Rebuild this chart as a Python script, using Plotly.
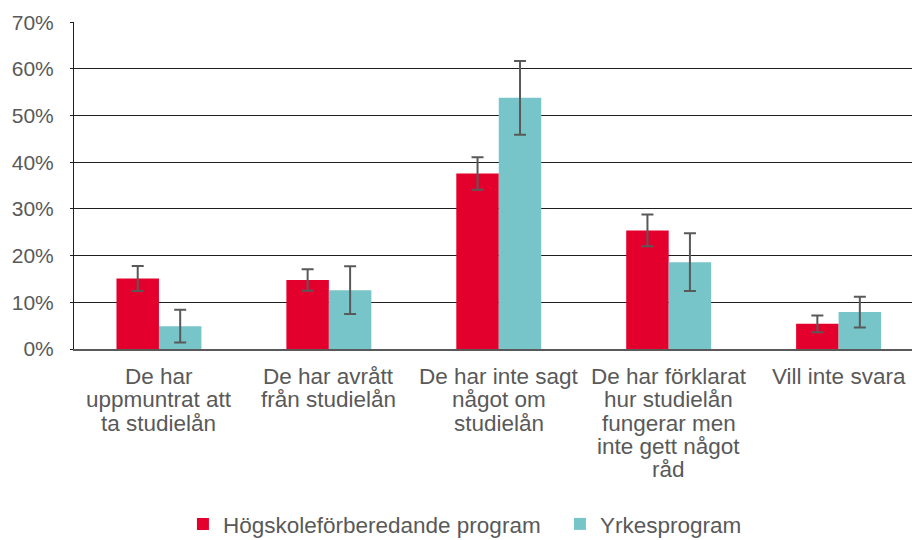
import plotly.graph_objects as go

categories = [
    "De har<br>uppmuntrat att<br>ta studielån",
    "De har avrått<br>från studielån",
    "De har inte sagt<br>något om<br>studielån",
    "De har förklarat<br>hur studielån<br>fungerar men<br>inte gett något<br>råd",
    "Vill inte svara",
]
series_names = ["Högskoleförberedande program", "Yrkesprogram"]
hog = [15.1, 14.8, 37.6, 25.4, 5.4]
hog_err = [2.7, 2.3, 3.5, 3.4, 1.8]
yrk = [4.9, 12.6, 53.8, 18.6, 7.9]
yrk_err = [3.5, 5.1, 7.9, 6.2, 3.3]
y_ticks = [0, 10, 20, 30, 40, 50, 60, 70]

RED = "#E3002C"
TEAL = "#77C5C8"
TXT = "#595959"
FONT = "Liberation Sans, Arial, sans-serif"

xs = list(range(len(categories)))

fig = go.Figure()
fig.add_trace(go.Bar(
    x=xs, y=hog, name=series_names[0], marker=dict(color=RED, line=dict(width=0)),
    error_y=dict(type="data", array=hog_err, visible=True, color=TXT, thickness=2, width=6),
))
fig.add_trace(go.Bar(
    x=xs, y=yrk, name=series_names[1], marker=dict(color=TEAL, line=dict(width=0)),
    error_y=dict(type="data", array=yrk_err, visible=True, color=TXT, thickness=2, width=6),
))

# category labels, one annotation per line for tight line spacing
for i, cat in enumerate(categories):
    for j, line in enumerate(cat.split("<br>")):
        fig.add_annotation(
            x=i, xref="x", y=0, yref="paper", text=line, showarrow=False,
            xanchor="center", yanchor="middle", yshift=-27.5 - 23.3 * j,
            font=dict(family=FONT, size=22.5, color=TXT),
        )

fig.update_layout(
    width=912, height=540,
    margin=dict(l=74, r=0, t=22, b=191, autoexpand=False),
    paper_bgcolor="white", plot_bgcolor="white",
    barmode="group", bargap=0.5, bargroupgap=0,
    font=dict(family=FONT, size=21, color=TXT),
    legend=dict(
        orientation="h", x=0.13, xanchor="left", y=-0.536, yanchor="middle",
        font=dict(family=FONT, size=22.5, color=TXT), bgcolor="rgba(0,0,0,0)",
        traceorder="normal", entrywidth=332, entrywidthmode="pixels",
    ),
    showlegend=True,
)
fig.update_xaxes(
    range=[-0.5, 4.432], showticklabels=False, showgrid=False, zeroline=False,
    showline=True, linecolor=TXT, linewidth=2, ticks="",
)
fig.update_yaxes(
    range=[0, 70.05], tickvals=y_ticks, ticktext=[f"{v}%" for v in y_ticks],
    showgrid=True, gridcolor="#1f1f1f", gridwidth=1.3, zeroline=False,
    showline=True, linecolor="#1f1f1f", linewidth=1,
    ticks="outside", ticklen=3, tickcolor="#1f1f1f",
    tickfont=dict(family=FONT, size=21, color=TXT), ticklabelstandoff=12,
)

fig.write_html(
    "out.html",
    config={"displayModeBar": False},
    post_script="document.body.style.margin='0';document.body.style.overflow='hidden';",
)
